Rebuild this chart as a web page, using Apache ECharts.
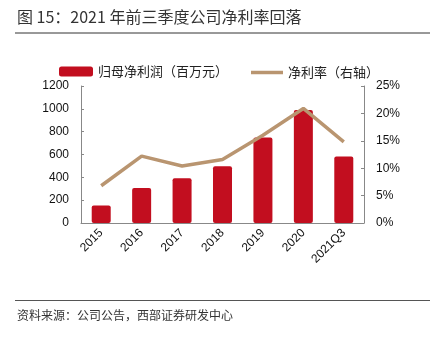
<!DOCTYPE html>
<html>
<head>
<meta charset="utf-8">
<script src="https://cdn.jsdelivr.net/npm/echarts@6/dist/echarts.min.js"></script>
<style>
  html, body { margin: 0; padding: 0; background: #fff; }
  #chart { width: 430px; height: 337px; }
</style>
</head>
<body>
<div id="chart"></div>
<script>
// Annual net profit attributable to parent (million yuan) and net margin (%)
const categories = ['2015', '2016', '2017', '2018', '2019', '2020', '2021Q3'];
const netProfit = [153, 307, 392, 498, 750, 989, 583];
const netMargin = [6.8, 12.2, 10.4, 11.6, 16.0, 20.9, 14.8];
const leftTicks = [0, 200, 400, 600, 800, 1000, 1200];
const rightTicks = [0, 5, 10, 15, 20, 25];

const titleText = '图 15：2021 年前三季度公司净利率回落';
const sourceText = '资料来源：公司公告，西部证券研发中心';
const profitName = '归母净利润（百万元）';
const marginName = '净利率（右轴）';

const chart = echarts.init(document.getElementById('chart'), null, { renderer: 'canvas' });
const cjk = '"Noto Sans CJK SC", "Noto Sans", sans-serif';
const latin = '"Liberation Sans", Arial, sans-serif';
const legendText = { fontFamily: cjk, fontSize: 13, color: '#222' };

chart.setOption({
  animation: false,
  backgroundColor: '#fff',
  graphic: [
    { type: 'text', left: 17, top: 9,
      style: { text: titleText, font: '16px ' + cjk, fill: '#333' } },
    { type: 'line', shape: { x1: 15, y1: 33, x2: 430, y2: 33 },
      style: { stroke: '#333', lineWidth: 1 } },
    { type: 'line', shape: { x1: 15, y1: 300.5, x2: 430, y2: 300.5 },
      style: { stroke: '#555', lineWidth: 1 } },
    { type: 'text', left: 17, top: 309,
      style: { text: sourceText, font: '12px ' + cjk, fill: '#333' } }
  ],
  legend: [
    {
      top: 60, left: 54,
      itemWidth: 34, itemHeight: 10,
      textStyle: legendText,
      data: [{ name: profitName, icon: 'roundRect' }]
    },
    {
      top: 61, left: 246,
      itemWidth: 32, itemHeight: 3.5,
      textStyle: legendText,
      data: [{ name: marginName, icon: 'rect' }]
    }
  ],
  grid: { left: 81, right: 66, top: 86, bottom: 114 },
  xAxis: {
    type: 'category',
    data: categories,
    axisLine: { lineStyle: { color: '#888', width: 1 } },
    axisTick: { inside: true, length: 3, alignWithLabel: false, lineStyle: { color: '#888' } },
    axisLabel: { rotate: 45, fontFamily: latin, fontSize: 12, color: '#111', margin: 8, interval: 0 }
  },
  yAxis: [
    {
      type: 'value', min: 0, max: 1200, interval: 200,
      axisLine: { show: true, lineStyle: { color: '#888' } },
      axisTick: { show: true, inside: true, length: 3, lineStyle: { color: '#888' } },
      splitLine: { show: false },
      axisLabel: { fontFamily: latin, fontSize: 12, color: '#111', margin: 12,
        customValues: leftTicks, formatter: v => String(v) }
    },
    {
      type: 'value', min: 0, max: 25, interval: 5,
      axisLine: { show: true, lineStyle: { color: '#888' } },
      axisTick: { show: true, inside: true, length: 3, lineStyle: { color: '#888' } },
      splitLine: { show: false },
      axisLabel: { fontFamily: latin, fontSize: 12, color: '#111', margin: 12,
        formatter: v => v + '%', customValues: rightTicks }
    }
  ],
  series: [
    {
      name: profitName, type: 'bar', yAxisIndex: 0,
      data: netProfit, barWidth: '47%',
      itemStyle: { color: '#C20E1F', borderRadius: 2 }
    },
    {
      name: marginName, type: 'line', yAxisIndex: 1,
      data: netMargin, symbol: 'none',
      lineStyle: { color: '#B99570', width: 3.5 },
      itemStyle: { color: '#B99570' }
    }
  ]
});
</script>
</body>
</html>
